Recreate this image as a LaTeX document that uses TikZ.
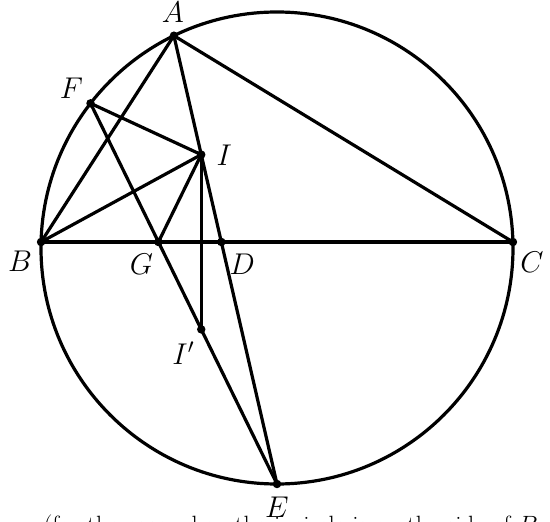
\RequirePackage{fix-cm}
\documentclass[tikz,border=0pt]{standalone}
\usetikzlibrary{calc}
\begin{document}
\begin{tikzpicture}[x=1pt,y=1pt, line width=3.2pt, line join=round, line cap=round,
  pt/.style={circle,fill=black,inner sep=0pt,minimum size=8.5pt},
  lbl/.style={font=\fontsize{30}{36}\selectfont, inner sep=0pt}]
\useasboundingbox (-277,-274) rectangle (273,248);
\coordinate (O) at (0,0);
\coordinate (A) at (-103.10,212.29);
\coordinate (B) at (-235.92,6);
\coordinate (C) at (235.92,6);
\coordinate (E) at (0,-236);
\coordinate (I) at (-75.75,93.37);
\coordinate (D) at (-55.65,6);
\coordinate (Ip) at (-75.75,-81.37);
\coordinate (F) at (-186.47,144.66);
\coordinate (G) at (-118.55,6);
% circle
\draw (O) circle (236);
% segments
\draw (A) -- (B);
\draw (A) -- (C);
\draw (A) -- (E);
\draw (B) -- (C);
\draw (B) -- (I);
\draw (F) -- (I);
\draw (F) -- (E);
\draw (G) -- (I);
\draw (I) -- (Ip);
% points
\foreach \p in {A,B,C,D,E,F,G,I,Ip} \node[pt] (dot\p) at (\p) {};
% labels
\node[lbl] (lA) at ($(A)+(-1,23)$) {$A$};
\node[lbl] (lF) at ($(F)+(-19,15)$) {$F$};
\node[lbl] (lI) at ($(I)+(23,-1)$) {$I$};
\node[lbl] (lB) at ($(B)+(-21,-19)$) {$B$};
\node[lbl] (lG) at ($(G)+(-17,-22)$) {$G$};
\node[lbl] (lD) at ($(D)+(21,-22)$) {$D$};
\node[lbl] (lC) at ($(C)+(19,-20)$) {$C$};
\node[lbl] (lIp) at ($(Ip)+(-18,-24)$) {$I'$};
\node[lbl] (lE) at ($(E)+(0,-23)$) {$E$};
% cut-off caption line (only the tops of its letters show)
\node[font=\fontsize{25}{30}\selectfont, inner sep=0pt, anchor=base west] (cap) at (-235,-286) {(for the case when the incircle is on the side of $B$};
\end{tikzpicture}
\end{document}
